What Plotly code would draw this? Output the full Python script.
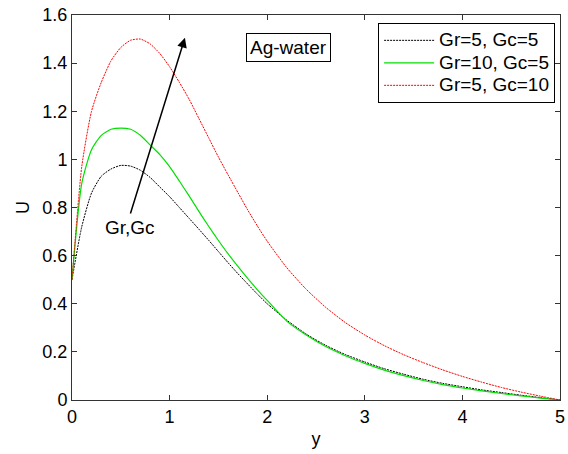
import plotly.graph_objects as go

# y coordinates
y_fine = [0.0, 0.1, 0.2, 0.3, 0.4, 0.5, 0.6, 0.7, 0.8, 0.9, 1.0, 1.1, 1.2, 1.3, 1.4,
          1.5, 1.6, 1.7, 1.8, 1.9, 2.0, 2.2, 2.4, 2.6, 2.8, 3.0, 3.2, 3.4, 3.6, 3.8,
          4.0, 4.2, 4.4, 4.6, 4.8, 5.0]

# Gr=5, Gc=5 (black dotted)
u_gr5_gc5 = [0.50, 0.72, 0.86, 0.93, 0.96, 0.975, 0.972, 0.955, 0.925, 0.885, 0.845,
             0.80, 0.755, 0.71, 0.664, 0.617, 0.57, 0.525, 0.482, 0.44, 0.40, 0.332,
             0.274, 0.227, 0.189, 0.158, 0.13, 0.107, 0.086, 0.069, 0.055, 0.042,
             0.031, 0.02, 0.01, 0.0]

# Gr=10, Gc=5 (green solid)
u_gr10_gc5 = [0.50, 0.90, 1.04, 1.10, 1.125, 1.13, 1.125, 1.10, 1.06, 1.02, 0.97,
              0.91, 0.848, 0.784, 0.722, 0.663, 0.607, 0.555, 0.505, 0.458, 0.414,
              0.328, 0.270, 0.222, 0.184, 0.152, 0.124, 0.101, 0.081, 0.064, 0.05,
              0.038, 0.027, 0.017, 0.008, 0.0]

# Gr=5, Gc=10 (red dotted)
u_gr5_gc10 = [0.50, 0.97, 1.20, 1.32, 1.41, 1.465, 1.495, 1.50, 1.48, 1.44, 1.385,
              1.32, 1.25, 1.17, 1.09, 1.01, 0.935, 0.862, 0.79, 0.723, 0.66,
              0.55, 0.46, 0.385, 0.322, 0.27, 0.226, 0.188, 0.155, 0.125, 0.098,
              0.074, 0.052, 0.033, 0.016, 0.0]

series_names = ["Gr=5, Gc=5", "Gr=10, Gc=5", "Gr=5, Gc=10"]
x_ticks = [0, 1, 2, 3, 4, 5]
y_ticks = [0, 0.2, 0.4, 0.6, 0.8, 1.0, 1.2, 1.4, 1.6]
y_tick_text = ["0", "0.2", "0.4", "0.6", "0.8", "1", "1.2", "1.4", "1.6"]

FONT = "Liberation Sans, Arial, sans-serif"


def big(name):
    return '<span style="font-size:19px">' + name + '</span>'


fig = go.Figure()
fig.add_trace(go.Scatter(x=y_fine, y=u_gr5_gc5, mode="lines", name=big(series_names[0]),
                         line=dict(color="black", width=1, dash="2px,1px", shape="spline", smoothing=0.6)))
fig.add_trace(go.Scatter(x=y_fine, y=u_gr10_gc5, mode="lines", name=big(series_names[1]),
                         line=dict(color="#00e000", width=1.2, shape="spline", smoothing=0.6)))
fig.add_trace(go.Scatter(x=y_fine, y=u_gr5_gc10, mode="lines", name=big(series_names[2]),
                         line=dict(color="red", width=1, dash="2px,1px", shape="spline", smoothing=0.6)))

axis_common = dict(showline=True, linecolor="#333333", linewidth=1, mirror="allticks",
                   ticks="inside", ticklen=5, tickcolor="#333333", showgrid=False,
                   zeroline=False, automargin=False,
                   tickfont=dict(family=FONT, size=18, color="black"))

fig.update_xaxes(range=[0, 5], tickvals=x_ticks, ticktext=[str(t) for t in x_ticks],
                 title=dict(text="y", font=dict(family=FONT, size=18, color="black"), standoff=6),
                 **axis_common)
fig.update_yaxes(range=[0, 1.6], tickvals=y_ticks, ticktext=y_tick_text,
                 title=dict(text="U", font=dict(family=FONT, size=18, color="black"), standoff=8),
                 **axis_common)

fig.add_annotation(x=0.594, y=0.715, text="Gr,Gc", showarrow=False,
                   font=dict(family=FONT, size=19, color="black"), xref="x", yref="y")
fig.add_annotation(x=1.157, y=1.505, ax=0.594, ay=0.769, xref="x", yref="y",
                   axref="x", ayref="y", text="", showarrow=True, arrowhead=2,
                   arrowsize=1.3, arrowwidth=1.5, arrowcolor="black")
fig.add_annotation(x=2.22, y=1.463, text="Ag-water", showarrow=False,
                   font=dict(family=FONT, size=19, color="black"), xref="x", yref="y",
                   bordercolor="black", borderwidth=1, borderpad=3, bgcolor="white")

fig.update_layout(
    width=568, height=454,
    margin=dict(l=72, r=8, t=15, b=54, autoexpand=False),
    paper_bgcolor="white", plot_bgcolor="white",
    showlegend=True,
    legend=dict(x=0.99, y=0.979, xanchor="right", yanchor="top",
                bgcolor="white", bordercolor="black", borderwidth=1,
                font=dict(family=FONT, size=15, color="black"),
                itemwidth=50, tracegroupgap=0),
)

fig.write_html("out.html")
